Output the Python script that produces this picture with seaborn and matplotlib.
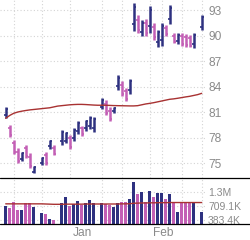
import numpy as np
import pandas as pd
import matplotlib
matplotlib.use("Agg")
import matplotlib.pyplot as plt
import seaborn as sns
from matplotlib.lines import Line2D
from matplotlib.ticker import NullLocator, FixedLocator
from matplotlib.transforms import ScaledTranslation

# ---------------- data ----------------
slot = list(range(50))
high = [81.6, 79.5, 77.7, 76.8, 76.3, 77.1, 76.2, 74.6, None, 75.7,
        76.3, 77.7, 77.1, None, 78.9, 78.7, 78.3, 79.1, 80.0, 79.4,
        80.1, 80.5, 80.45, None, 82.6, 82.4, 81.6, 81.6, 85.3, 84.6,
        83.8, 84.9, 93.8, 92.4, 91.8, 91.9, 93.5, 91.5, 90.7, 91.5,
        91.2, 93.6, 90.3, 90.3, 90.3, 90.2, 90.1, 90.3, None, 92.4]
low = [80.3, 78.1, 76.1, 75.0, 75.2, 75.6, 74.4, 73.8, None, 74.8,
       74.8, 76.7, 75.9, None, 77.1, 77.3, 76.7, 77.6, 78.4, 78.2,
       78.8, 79.0, 78.7, None, 81.3, 80.6, 79.9, 80.9, 83.6, 82.9,
       82.3, 83.1, 90.5, 90.3, 90.0, 90.0, 90.3, 89.5, 88.7, 88.8,
       90.0, 91.4, 89.1, 89.0, 88.8, 88.7, 88.6, 88.5, None, 90.6]
up = [1, 0, 0, 0, 1, 0, 0, 1, None, 1,
      0, 1, 0, None, 1, 1, 0, 1, 1, 0,
      1, 1, 1, None, 1, 0, 0, 1, 1, 0,
      0, 1, 1, 0, 1, 0, 1, 0, 1, 1,
      0, 1, 0, 1, 0, 0, 0, 1, None, 1]
volume = [717e3, 643e3, 852e3, 590e3, 590e3, 788e3, 809e3, 672e3, None, 512e3,
          497e3, 409e3, 383e3, None, 798e3, 1.05e6, 701e3, 755e3, 870e3, 732e3,
          788e3, 908e3, 788e3, None, 798e3, 765e3, 732e3, 663e3, 788e3, 844e3,
          844e3, 936e3, 2.0e6, 1.18e6, 1.30e6, 844e3, 1.34e6, 1.05e6, 1.21e6, 1.21e6,
          936e3, 1.18e6, 788e3, 549e3, 844e3, 844e3, 844e3, 844e3, None, 549e3]
price_ma = [80.26, 80.6, 80.85, 81.0, 81.1, 81.18, 81.25, 81.3, 81.35, 81.4,
            81.45, 81.5, 81.6, 81.7, 81.75, 81.8, 81.85, 81.88, 81.9, 81.9,
            81.88, 81.85, 81.82, 81.8, 81.8, 81.8, 81.78, 81.76, 81.75, 81.74,
            81.73, 81.72, 81.72, 81.75, 81.85, 81.95, 82.02, 82.1, 82.2, 82.3,
            82.4, 82.5, 82.55, 82.62, 82.7, 82.78, 82.85, 82.95, 83.05, 83.2]
vol_ma = [770e3, 770e3, 770e3, 770e3, 770e3, 770e3, 770e3, 770e3, 770e3, 770e3,
          765e3, 760e3, 755e3, 755e3, 755e3, 760e3, 760e3, 760e3, 760e3, 760e3,
          765e3, 765e3, 765e3, 765e3, 765e3, 765e3, 765e3, 765e3, 765e3, 770e3,
          770e3, 775e3, 790e3, 795e3, 800e3, 800e3, 805e3, 805e3, 810e3, 810e3,
          810e3, 815e3, 815e3, 815e3, 815e3, 815e3, 815e3, 815e3, 815e3, 815e3]
price_ticks = [75, 78, 81, 84, 87, 90, 93]
vol_ticks = [383.4e3, 709.1e3, 1.3e6]
vol_tick_labels = ["383.4K", "709.1K", "1.3M"]
month_pos = [16, 36]
month_labels = ["Jan", "Feb"]
grid_slots = [2, 9, 16, 24, 29, 36, 39, 44, 49]

BLUE = "#2e3180"
MAG = "#c35fb5"
RED = "#a83232"
GRID = "#d4d4d4"
TXT = "#8a8a8a"

sns.set_theme(style="white")
plt.rcParams['font.family'] = ['Liberation Sans', 'DejaVu Sans']

df = pd.DataFrame({"slot": slot, "high": high, "low": low, "up": up,
                   "volume": volume, "price_ma": price_ma, "vol_ma": vol_ma})
bars = df.dropna(subset=["high"]).copy()
bars["dir"] = np.where(bars["up"] == 1, "up", "down")
bars["open"] = np.where(bars["up"] == 1, bars["low"] + 0.25 * (bars["high"] - bars["low"]),
                        bars["high"] - 0.25 * (bars["high"] - bars["low"]))
bars["close"] = np.where(bars["up"] == 1, bars["high"] - 0.15 * (bars["high"] - bars["low"]),
                         bars["low"] + 0.15 * (bars["high"] - bars["low"]))
pal = {"up": BLUE, "down": MAG}
cols = bars["dir"].map(pal)

W, H = 250, 240
fig = plt.figure(figsize=(W / 100, H / 100), dpi=100)
ax = fig.add_axes([0, 1 - 178 / H, 205 / W, 178 / H])
axv = fig.add_axes([0, 1 - 224 / H, 205 / W, 46 / H])

xlim = (-1.425, 49.825)

# ---- price panel ----
for s in ax.spines.values():
    s.set_visible(False)
ax.set_xlim(*xlim)
ax.set_ylim(73.24, 94.18)
ax.set_yticks(price_ticks)
ax.yaxis.tick_right()
ax.tick_params(axis="y", length=0, pad=2.2, labelsize=8.6, labelcolor=TXT)
ax.set_xticks(grid_slots)
ax.tick_params(axis="x", length=0, labelbottom=False)
ax.grid(True, color=GRID, lw=0.8, ls=(0, (1, 2)))
ax.set_axisbelow(True)

ax.vlines(bars["slot"], bars["low"], bars["high"], colors=cols, lw=1.8)
ax.hlines(bars["open"], bars["slot"] - 0.45, bars["slot"], colors=cols, lw=1.2)
ax.hlines(bars["close"], bars["slot"], bars["slot"] + 0.45, colors=cols, lw=1.2)
sns.lineplot(data=df, x="slot", y="price_ma", ax=ax, color=RED, lw=1.0)
ax.set_xlabel("")
ax.set_ylabel("")

# ---- volume panel ----
vb = df.dropna(subset=["volume"]).copy()
vb["dir"] = np.where(vb["up"] == 1, "up", "down")
sns.barplot(data=vb, x="slot", y="volume", hue="dir", palette=pal, native_scale=True,
            width=0.62, dodge=False, legend=False, ax=axv, saturation=1, linewidth=0)
sns.lineplot(data=df, x="slot", y="vol_ma", ax=axv, color=RED, lw=1.0)
axv.set_yscale("log")
axv.set_ylim(322.9e3, 2.348e6)
axv.set_xlim(*xlim)
for s in axv.spines.values():
    s.set_visible(False)
axv.yaxis.tick_right()
axv.yaxis.set_major_locator(FixedLocator(vol_ticks))
axv.set_yticklabels(vol_tick_labels)
axv.yaxis.set_minor_locator(NullLocator())
axv.tick_params(axis="y", which="both", length=0, pad=2.2, labelsize=7.5, labelcolor=TXT)
axv.set_xticks(month_pos)
axv.set_xticklabels(month_labels)
axv.xaxis.set_minor_locator(FixedLocator(grid_slots))
axv.tick_params(axis="x", which="minor", length=0)
axv.tick_params(axis="x", which="major", direction="out", length=11.5, width=0.9, color="black",
                pad=-9.4, labelsize=8.6, labelcolor=TXT)
for lab in axv.get_xticklabels():
    lab.set_ha("left")
    lab.set_transform(lab.get_transform() + ScaledTranslation(3 / 100, 0, fig.dpi_scale_trans))
axv.grid(True, axis="y", which="major", color=GRID, lw=0.8, ls=(0, (1, 2)))
axv.grid(True, axis="x", which="minor", color=GRID, lw=0.8, ls=(0, (1, 2)))
axv.set_axisbelow(True)
axv.set_xlabel("")
axv.set_ylabel("")

for yy in (178, 224):
    fig.add_artist(Line2D([0, 1], [1 - yy / H, 1 - yy / H], transform=fig.transFigure,
                          color="black", lw=0.9))

fig.savefig("out.png", dpi=100)
